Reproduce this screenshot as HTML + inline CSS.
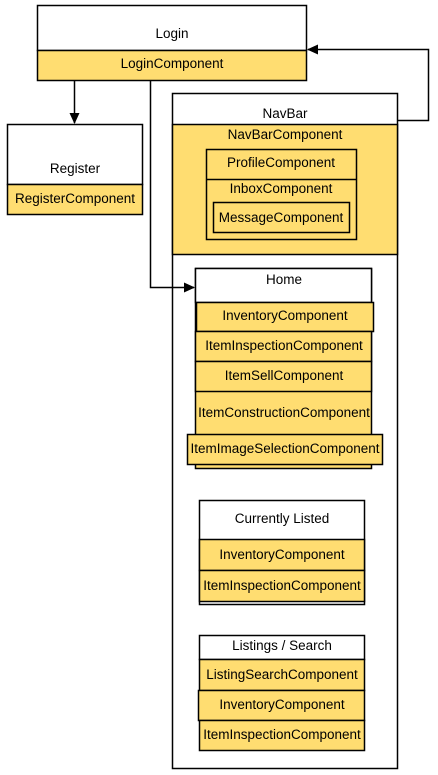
<!DOCTYPE html>
<html><head><meta charset="utf-8"><style>
html,body{margin:0;padding:0;background:#fff;width:438px;height:775px;overflow:hidden}
svg text{font-family:"Liberation Sans",Arial,sans-serif;font-size:13.5px;fill:#000;text-anchor:middle}
</style></head><body>
<svg width="438" height="775" viewBox="0 0 438 775" xmlns="http://www.w3.org/2000/svg">
<g stroke="#000" stroke-width="1.5">
<rect x="37.5" y="5.5" width="269" height="45" fill="#fff"/>
<rect x="37.5" y="50.5" width="269" height="30" fill="#ffdd71"/>
<rect x="7.5" y="124.5" width="135" height="60" fill="#fff"/>
<rect x="7.5" y="184.5" width="135" height="30" fill="#ffdd71"/>
<rect x="172.5" y="93.5" width="225" height="675" fill="#fff"/>
<rect x="172.5" y="124.5" width="225" height="130" fill="#ffdd71"/>
<rect x="206.5" y="149.5" width="150" height="90" fill="#ffdd71"/>
<line x1="206.5" y1="179.5" x2="356.5" y2="179.5"/>
<rect x="213.5" y="202.5" width="136" height="30" fill="#ffdd71"/>
<rect x="195.5" y="268.5" width="176" height="200" fill="#ffdd71"/>
<rect x="195.5" y="268.5" width="176" height="34" fill="#fff"/>
<rect x="196.5" y="302.5" width="177" height="29" fill="#ffdd71"/>
<rect x="195.5" y="331.5" width="176" height="30" fill="#ffdd71"/>
<rect x="195.5" y="361.5" width="176" height="30" fill="#ffdd71"/>
<rect x="187.5" y="434.5" width="195" height="30" fill="#ffdd71"/>
<rect x="199.5" y="500.5" width="165" height="104" fill="#fff"/>
<rect x="199.5" y="539.5" width="165" height="31" fill="#ffdd71"/>
<rect x="199.5" y="570.5" width="165" height="31" fill="#ffdd71"/>
<rect x="199.5" y="635.5" width="165" height="24" fill="#fff"/>
<rect x="199.5" y="659.5" width="165" height="31" fill="#ffdd71"/>
<rect x="198.5" y="690.5" width="166" height="30" fill="#ffdd71"/>
<rect x="199.5" y="720.5" width="165" height="30" fill="#ffdd71"/>
<g fill="none">
<line x1="74.5" y1="80.5" x2="74.5" y2="123"/>
<polyline points="150.5,80.5 150.5,287.5 194,287.5"/>
<polyline points="397.5,120.5 428.5,120.5 428.5,49.5 308,49.5"/>
</g>
</g>
<path d="M69.5,113 L79.5,113 L74.5,124 z"/>
<path d="M184,282.5 L195,287.5 L184,292.5 z"/>
<path d="M307,49.5 L318,44.5 L318,54.5 z"/>
<text x="172" y="38">Login</text>
<text x="172" y="68">LoginComponent</text>
<text x="75" y="173">Register</text>
<text x="75" y="203">RegisterComponent</text>
<text x="285" y="118">NavBar</text>
<text x="285" y="139">NavBarComponent</text>
<text x="281" y="167">ProfileComponent</text>
<text x="281" y="193">InboxComponent</text>
<text x="281" y="222">MessageComponent</text>
<text x="284" y="284">Home</text>
<text x="285" y="320">InventoryComponent</text>
<text x="284" y="350">ItemInspectionComponent</text>
<text x="284" y="380">ItemSellComponent</text>
<text x="284" y="417">ItemConstructionComponent</text>
<text x="285" y="453">ItemImageSelectionComponent</text>
<text x="282" y="523">Currently Listed</text>
<text x="282" y="559">InventoryComponent</text>
<text x="282" y="590">ItemInspectionComponent</text>
<text x="282" y="650">Listings / Search</text>
<text x="282" y="679">ListingSearchComponent</text>
<text x="282" y="709">InventoryComponent</text>
<text x="282" y="739">ItemInspectionComponent</text>
</svg>
</body></html>
